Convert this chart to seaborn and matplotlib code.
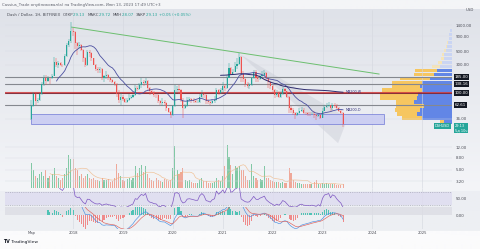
import numpy as np
import pandas as pd
import matplotlib
matplotlib.use("Agg")
import matplotlib.pyplot as plt
import matplotlib.dates as mdates
from matplotlib.patches import Rectangle, Polygon
from matplotlib.ticker import NullLocator
import seaborn as sns

# ---------------- data (semi-monthly candles, DASH/USD) ----------------
close = [60, 95, 72, 75, 95, 140, 175, 160, 180, 175, 190, 330, 300, 320, 300, 290, 420, 650, 760, 1100,
         1050, 700, 620, 650, 530, 390, 290, 480, 470, 380, 300, 250, 240, 250, 175, 190, 200, 175, 165, 150, 140, 95, 75, 85,
         78, 70, 75, 80, 85, 90, 120, 115, 135, 150, 145, 160, 120, 105, 100, 92, 90, 72, 66, 70, 68, 55, 48, 42,
         60, 110, 115, 110, 75, 55, 60, 75, 77, 75, 72, 70, 70, 85, 95, 90, 72, 70, 66, 72, 75, 110, 100, 110,
         130, 120, 180, 260, 210, 225, 280, 310, 400, 210, 170, 140, 130, 135, 175, 220, 175, 170, 190, 200, 215, 175, 150, 130,
         110, 90, 100, 85, 95, 115, 105, 85, 55, 52, 45, 42, 45, 50, 52, 46, 45, 44, 43, 44, 42, 40, 42, 38,
         50, 58, 60, 62, 55, 62, 60, 55, 50, 46, 29.13]
high = [75, 103, 98, 80, 100, 150, 200, 200, 190, 185, 210, 400, 380, 340, 330, 310, 450, 700, 800, 1550,
        1250, 1100, 720, 720, 680, 560, 400, 520, 520, 480, 390, 310, 270, 270, 260, 200, 230, 210, 185, 170, 160, 145, 110, 98,
        90, 80, 82, 95, 92, 95, 135, 130, 145, 180, 165, 180, 165, 125, 110, 105, 95, 95, 75, 80, 75, 70, 56, 50,
        62, 135, 130, 135, 115, 80, 65, 85, 85, 82, 80, 75, 75, 95, 110, 100, 95, 78, 72, 78, 88, 120, 115, 120,
        150, 140, 200, 320, 270, 250, 330, 380, 470, 420, 230, 175, 150, 145, 185, 240, 240, 195, 200, 230, 240, 220, 180, 155,
        135, 115, 110, 105, 105, 125, 120, 108, 88, 60, 55, 48, 48, 55, 58, 55, 48, 48, 47, 48, 50, 44, 46, 43,
        55, 62, 68, 70, 63, 66, 66, 65, 57, 51, 47]
low = [34, 58, 62, 68, 72, 90, 130, 135, 150, 140, 170, 190, 270, 260, 280, 270, 280, 410, 600, 700,
       900, 550, 430, 560, 500, 330, 270, 280, 410, 340, 290, 230, 215, 215, 165, 150, 170, 165, 150, 145, 130, 85, 68, 63,
       72, 66, 66, 72, 78, 80, 88, 105, 110, 120, 130, 140, 110, 92, 95, 85, 80, 66, 62, 60, 62, 50, 45, 38,
       40, 58, 100, 95, 70, 38, 53, 58, 70, 68, 68, 66, 66, 68, 82, 80, 65, 65, 62, 64, 68, 72, 90, 95,
       100, 105, 115, 175, 200, 200, 220, 250, 300, 150, 150, 125, 120, 115, 130, 170, 150, 150, 165, 180, 190, 165, 120, 115,
       100, 80, 85, 80, 80, 90, 100, 80, 45, 45, 42, 36, 40, 44, 48, 44, 42, 41, 41, 42, 38, 34, 39, 36,
       37, 49, 55, 57, 50, 52, 56, 52, 47, 43, 26]
first_open = 36.0
volume = [26, 18, 12, 10, 14, 16, 12, 18, 10, 12, 14, 20, 12, 10, 8, 10, 14, 20, 34, 30,
          30, 20, 18, 12, 14, 10, 12, 14, 10, 9, 10, 8, 8, 7, 10, 8, 8, 9, 6, 7, 10, 25, 15, 12,
          8, 7, 9, 10, 8, 10, 22, 15, 20, 24, 16, 22, 14, 10, 8, 7, 10, 8, 7, 6, 9, 8, 7, 8,
          20, 43, 18, 14, 16, 20, 8, 7, 8, 6, 5, 5, 5, 8, 10, 7, 7, 5, 5, 5, 6, 10, 8, 7,
          12, 22, 44, 32, 24, 14, 23, 20, 23, 18, 18, 12, 8, 8, 25, 12, 10, 8, 9, 8, 22, 10, 10, 8,
          7, 6, 6, 6, 5, 6, 5, 5, 20, 15, 8, 6, 5, 5, 4, 4, 4, 4, 4, 4, 6, 8, 4, 4,
          5, 4, 5, 4, 4, 4, 4, 3, 3, 3, 4]

# volume profile rows (bottom -> top): up / down volume
vp_up = [8, 30, 35, 32, 28, 38, 35, 34, 30, 32, 30, 22, 18, 15, 12, 10, 8, 8, 6, 5, 4, 3, 3, 2]
vp_down = [4, 20, 20, 25, 28, 18, 37, 38, 40, 28, 30, 30, 20, 22, 8, 4, 3, 2, 2, 1, 1, 0, 0, 0]
vp_range = (29.7, 1245)
vp_value_rows = 14

levels = [185.00, 138.16, 62.61]
red_level = 100.00
price_ticks = [1400, 900, 500, 300, 36, 12, 8, 5, 3.2]
trend_dates = ["2017-12-20", "2024-02-20"]
trend_prices = [1290, 207]
box_dates = ["2017-03-01", "2024-03-25"]
box_prices = [29.7, 43.7]
wedge_dates = ["2021-05-05", "2023-07-05", "2023-04-25"]
wedge_prices = [450, 37, 14]

dates = pd.date_range("2017-03-01", periods=len(close), freq="SMS")
opens = [first_open] + close[:-1]

# ---------------- style ----------------
sns.set_theme(style="white")
plt.rcParams["font.family"] = ["DejaVu Sans"]
W, H = 480, 249
fig = plt.figure(figsize=(4.8, 2.49), dpi=100)


def fr(x0, y0, x1, y1):
    return [x0 / W, 1 - y1 / H, (x1 - x0) / W, (y1 - y0) / H]


# background gradient
bg = fig.add_axes([0, 0, 1, 1], zorder=-10)
bg.axis("off")
rows = np.arange(H)
stops_y = [0, 9, 10, 190, 191, 230, 231, 249]
cols_hex = ["#f4f5f7", "#f4f5f7", "#dfe2e9", "#f4f5f8", "#eceef3", "#eef0f3", "#fbfbfc", "#fbfbfc"]
rgb = np.array([matplotlib.colors.to_rgb(c) for c in cols_hex])
img = np.stack([np.interp(rows, stops_y, rgb[:, k]) for k in range(3)], axis=-1)[:, None, :]
bg.imshow(img, aspect="auto", extent=[0, 1, 0, 1])
bg.set_xlim(0, 1)
bg.set_ylim(0, 1)

xlim = (mdates.date2num(pd.Timestamp("2016-08-20")), mdates.date2num(pd.Timestamp("2025-08-06")))
ylim = (2.44, 2513)
year_ticks = [pd.Timestamp(f"{y}-01-01") for y in range(2018, 2026)]
UP, DN = "#26a69a", "#ef5350"

# ---------------- main pane ----------------
ax = fig.add_axes(fr(5, 10, 452, 188))
ax.set_zorder(2)
ax.patch.set_alpha(0)
ax.set_yscale("log")
for yt in year_ticks:
    ax.axvline(yt, color="#d3d6de", lw=0.4, zorder=0)
for p in price_ticks:
    ax.axhline(p, color="#d9dce3", lw=0.3, zorder=0)

# drawings
ax.add_patch(Polygon([(mdates.date2num(pd.Timestamp(d)), p) for d, p in zip(wedge_dates, wedge_prices)],
                     closed=True, fc="#c9ccd6", ec="none", alpha=0.45, zorder=1))
bx0 = mdates.date2num(pd.Timestamp(box_dates[0]))
bx1 = mdates.date2num(pd.Timestamp(box_dates[1]))
ax.add_patch(Rectangle((bx0, box_prices[0]), bx1 - bx0, box_prices[1] - box_prices[0],
                       fc="#c9ccf3", ec="#7880d8", lw=0.6, alpha=0.9, zorder=1))
for lv in levels:
    ax.axhline(lv, color="#85888f", lw=0.8, zorder=1.5)
ax.axhline(red_level, color="#d23b3b", lw=1.5, alpha=0.85, zorder=1.5)
ax.axhline(red_level, color="#4b1832", lw=0.4, zorder=1.6)
ax.plot(pd.to_datetime(trend_dates), trend_prices, color="#6cbf6f", lw=0.7, zorder=1.7)

# candles
cols = [UP if c >= o else DN for o, c in zip(opens, close)]
dn = mdates.date2num(dates)
ax.vlines(dn, low, high, colors=cols, lw=0.35, zorder=3)
bottoms = [min(o, c) for o, c in zip(opens, close)]
heights = [max(abs(c - o), 0.3) for o, c in zip(opens, close)]
ax.bar(dn, heights, bottom=bottoms, width=8, color=cols, zorder=3.1, linewidth=0)

# moving averages
cs = pd.Series(close, index=dates)
ma_d = cs.rolling(13).mean()
ma_w = cs.rolling(92).mean()
sns.lineplot(x=dates, y=ma_d.values, ax=ax, color="#4b4fa0", lw=0.6, zorder=4)
sns.lineplot(x=dates, y=ma_w.values, ax=ax, color="#2d2a6e", lw=0.7, zorder=4)
ax.text(dates[-1] + pd.Timedelta(days=20), ma_w.iloc[-1], "MA200-W", fontsize=2.4, color="#3a3780",
        va="center", ha="left", zorder=5)
ax.text(dates[-1] + pd.Timedelta(days=20), ma_d.iloc[-1], "MA200-D", fontsize=2.4, color="#3a3780",
        va="center", ha="left", zorder=5)

ax.set_xlim(xlim)
ax.set_ylim(ylim)
ax.set_xlabel("")
ax.set_ylabel("")
ax.yaxis.tick_right()
ax.yaxis.set_minor_locator(NullLocator())
ax.set_yticks(price_ticks)
ax.set_yticklabels([f"{p:.2f}" for p in price_ticks])
ax.tick_params(axis="y", length=0, pad=2.5, labelsize=2.9, labelcolor="#4a4c55")
ax.tick_params(axis="x", bottom=False, labelbottom=False)
for s in ax.spines.values():
    s.set_visible(False)

ytr = ax.get_yaxis_transform()
for lv in levels + [red_level]:
    ax.text(1.006, lv, f"{lv:.2f}", transform=ytr, fontsize=2.9, color="white", va="center", ha="left",
            bbox=dict(boxstyle="square,pad=0.25", fc="#131722", ec="none"), zorder=6, clip_on=False)
ax.text(1.006, close[-1] * 1.02, f"{close[-1]:.2f}\n5д 10ч", transform=ytr, fontsize=2.5, color="white",
        va="top", ha="left", linespacing=1.1, bbox=dict(boxstyle="square,pad=0.25", fc=UP, ec="none"),
        zorder=6, clip_on=False)
ax.text(0.995, close[-1] * 1.02, "DSHUSD", transform=ytr, fontsize=2.5, color="white", va="top", ha="right",
        bbox=dict(boxstyle="square,pad=0.25", fc=UP, ec="none"), zorder=6, clip_on=False)
ax.text(1.03, 1.0, "USD", transform=ax.transAxes, fontsize=2.8, color="#4a4c55", va="center", ha="left")

# volume overlay
axv = fig.add_axes(fr(5, 10, 452, 188), sharex=ax)
axv.set_zorder(1)
vcols = ["#5dbb8a" if c == UP else "#ee8f7a" for c in cols]
axv.bar(dn, volume, width=8, color=vcols, alpha=0.75, linewidth=0)
vma = pd.Series(volume).rolling(10).mean()
sns.lineplot(x=dn, y=vma.values, ax=axv, color="#f0b27a", lw=0.45, alpha=0.8)
axv.set_ylim(0, max(volume) * 178 / 43)
axv.set_xlim(xlim)
axv.axis("off")

# volume profile
vp = fig.add_axes(fr(352, 10, 452, 188))
vp.set_zorder(1.5)
vp.set_yscale("log")
edges = np.geomspace(vp_range[0], vp_range[1], len(vp_up) + 1)
hgt = np.diff(edges) * 0.85
up_c = ["#6286e6" if i < vp_value_rows else "#cad5f3" for i in range(len(vp_up))]
dn_c = ["#f6c660" if i < vp_value_rows else "#f5e4b8" for i in range(len(vp_up))]
vp.barh(edges[:-1], vp_up, height=hgt, left=0, align="edge", color=up_c, linewidth=0)
vp.barh(edges[:-1], vp_down, height=hgt, left=vp_up, align="edge", color=dn_c, linewidth=0)
vp.set_xlim(100, 0)
vp.set_ylim(ylim)
vp.axis("off")

# ---------------- RSI pane ----------------
axr = fig.add_axes(fr(5, 188, 452, 207), sharex=ax)
axr.patch.set_alpha(0)
d = cs.diff()
gain = d.clip(lower=0).ewm(alpha=1 / 7, adjust=False).mean()
loss = (-d.clip(upper=0)).ewm(alpha=1 / 7, adjust=False).mean()
rsi = 100 - 100 / (1 + gain / loss)
axr.axhspan(30, 70, color="#dedcf0", alpha=0.8, lw=0)
for lvl in (30, 70):
    axr.axhline(lvl, color="#9a9cab", lw=0.4, ls=(0, (2, 2)))
for yt in year_ticks:
    axr.axvline(yt, color="#d3d6de", lw=0.4, zorder=0)
sns.lineplot(x=dates[10:], y=rsi.values[10:], ax=axr, color="#7e57c2", lw=0.5)
axr.set_ylim(25, 81)
axr.yaxis.tick_right()
axr.set_yticks([50])
axr.set_yticklabels(["50.00"])
axr.tick_params(axis="y", length=0, pad=2.5, labelsize=2.9, labelcolor="#4a4c55")
axr.tick_params(axis="x", bottom=False, labelbottom=False)
axr.set_xlabel("")
axr.set_ylabel("")
for s in axr.spines.values():
    s.set_visible(False)

# ---------------- oscillator pane ----------------
axo = fig.add_axes(fr(5, 207, 452, 229), sharex=ax)
axo.patch.set_alpha(0)
lc = np.log(cs)
macd = lc.ewm(span=6, adjust=False).mean() - lc.ewm(span=13, adjust=False).mean()
sig = macd.ewm(span=5, adjust=False).mean()
hist = (macd - sig)
m = float(np.nanpercentile(np.abs(hist.values[8:]), 85))
axo.axhspan(0, m * 1.2, color="#dcdde4", alpha=0.8, lw=0)
for yt in year_ticks:
    axo.axvline(yt, color="#d3d6de", lw=0.4, zorder=0)
hc = ["#4fc3b5" if v >= 0 else "#ef8a8a" for v in hist.values]
axo.bar(dn[8:], hist.values[8:], width=8, color=hc[8:], linewidth=0)
sns.lineplot(x=dates[8:], y=macd.values[8:] * 0.5, ax=axo, color="#4a90e2", lw=0.45)
sns.lineplot(x=dates[8:], y=sig.values[8:] * 0.5, ax=axo, color="#e0605a", lw=0.45)
axo.set_ylim(-m * 2.0, m * 1.2)
axo.yaxis.tick_right()
axo.set_yticks([0])
axo.set_yticklabels(["0.00"])
axo.tick_params(axis="y", length=0, pad=2.5, labelsize=2.9, labelcolor="#4a4c55")
axo.set_xticks([pd.Timestamp("2017-03-01")] + year_ticks)
axo.set_xticklabels(["Мар"] + [str(y.year) for y in year_ticks])
axo.tick_params(axis="x", length=0, pad=1.5, labelsize=2.7, labelcolor="#4a4c55")
axo.set_xlabel("")
axo.set_ylabel("")
for s in axo.spines.values():
    s.set_visible(False)
axo.set_xlim(xlim)

# ---------------- texts ----------------
fig.text(2 / W, 1 - 5 / H, "Cassius_Trade опубликовал(а) на TradingView.com, Июн 13, 2023 17:49 UTC+3",
         fontsize=2.8, color="#5d606b", va="center", ha="left")
parts = [("Dash / Dollar, 1Н, BITFINEX  ", "#4a4c55"), ("ОТКР", "#4a4c55"), ("29.13  ", UP),
         ("МАКС", "#4a4c55"), ("29.72  ", UP), ("МИН", "#4a4c55"), ("28.07  ", UP),
         ("ЗАКР", "#4a4c55"), ("29.13  ", UP), ("+0.05 (+0.05%)", UP)]
prev = fig.text(7 / W, 1 - 15 / H, parts[0][0], fontsize=2.8, color=parts[0][1], va="center", ha="left")
for txt, c in parts[1:]:
    prev = ax.annotate(txt, xy=(1, 0), xycoords=prev, va="bottom", ha="left", fontsize=2.8, color=c,
                       annotation_clip=False)
t1 = fig.text(3 / W, 1 - 241 / H, "TV", fontsize=3.4, fontweight="bold", color="#131722", va="center", ha="left")
ax.annotate(" TradingView", xy=(1, 0), xycoords=t1, va="bottom", ha="left", fontsize=3.2, color="#131722",
            annotation_clip=False)

fig.savefig("out.png", dpi=100)
